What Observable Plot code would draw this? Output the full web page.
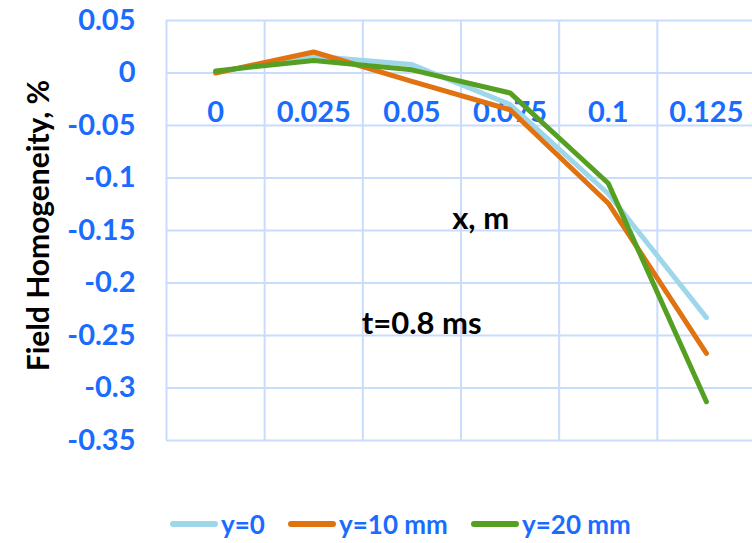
<!DOCTYPE html>
<html>
<head>
<meta charset="utf-8">
<script src="https://cdn.jsdelivr.net/npm/d3@7"></script>
<script src="https://cdn.jsdelivr.net/npm/@observablehq/plot@0.6"></script>
<style>
  body { margin: 0; background: #fff; font-family: Lato, "Open Sans", sans-serif; }
  #legend { position: relative; height: 43px; width: 752px; font-weight: bold; font-size: 26px; color: #1a6cff; }
  .item { position: absolute; top: 8px; display: flex; align-items: center; }
  .sw { width: 48px; height: 6px; border-radius: 3px; margin-right: 3px; }
</style>
</head>
<body>
<div id="chart"></div>
<div id="legend"></div>
<script>
const xs = [0, 0.025, 0.05, 0.075, 0.1, 0.125];
const xLabels = ["0", "0.025", "0.05", "0.075", "0.1", "0.125"];
const yTicks = [0.05, 0, -0.05, -0.1, -0.15, -0.2, -0.25, -0.3, -0.35];
const yTickLabels = ["0.05", "0", "-0.05", "-0.1", "-0.15", "-0.2", "-0.25", "-0.3", "-0.35"];
const seriesNames = ["y=0", "y=10 mm", "y=20 mm"];
const seriesColors = ["#9ed6ea", "#e0720f", "#55a023"];
const y0 = [0.001, 0.016, 0.008, -0.030, -0.115, -0.233];
const y10 = [0.000, 0.020, -0.008, -0.035, -0.124, -0.267];
const y20 = [0.002, 0.012, 0.003, -0.019, -0.105, -0.313];

const step = xs[1] - xs[0];
const gridX = xs.map(x => x - step / 2).concat([xs[xs.length - 1] + step / 2]);
const data = [y0, y10, y20].flatMap((vals, i) => vals.map((v, j) => ({x: xs[j], y: v, s: seriesNames[i]})));

const blue = "#1a6cff";
const chart = Plot.plot({
  width: 752,
  height: 500,
  marginLeft: 166,
  marginRight: -3,
  marginTop: 20,
  marginBottom: 60,
  style: {fontFamily: "Lato, sans-serif", overflow: "visible"},
  x: {type: "linear", domain: [gridX[0], gridX[gridX.length - 1]], axis: null},
  y: {domain: [-0.35, 0.05], axis: null},
  color: {domain: seriesNames, range: seriesColors},
  marks: [
    Plot.ruleY(yTicks, {stroke: "#cadcfb", strokeWidth: 2}),
    Plot.ruleX(gridX, {stroke: "#cadcfb", strokeWidth: 2}),
    Plot.text(yTicks, {x: gridX[0], y: d => d, text: (d, i) => yTickLabels[i], textAnchor: "end", dx: -31, fill: blue, fontWeight: "bold", fontSize: 29}),
    Plot.text(xs, {x: d => d, y: 0, text: (d, i) => xLabels[i], dy: 40, fill: blue, fontWeight: "bold", fontSize: 29}),
    Plot.line(data, {x: "x", y: "y", z: "s", stroke: "s", strokeWidth: 5, strokeLinecap: "round", strokeLinejoin: "round"}),
    Plot.text(["x, m"], {x: 0.0675, y: -0.139, fill: "#000", fontWeight: "bold", fontSize: 31}),
    Plot.text(["t=0.8 ms"], {x: 0.0525, y: -0.239, fill: "#000", fontWeight: "bold", fontSize: 31}),
    Plot.text(["Field Homogeneity, %"], {frameAnchor: "left", textAnchor: "middle", rotate: -90, dx: -127, dy: -5, fill: "#000", fontWeight: "bold", fontSize: 30})
  ]
});
document.getElementById("chart").appendChild(chart);

const legend = document.getElementById("legend");
const lefts = [170, 288, 471];
seriesNames.forEach((n, i) => {
  const it = document.createElement("div");
  it.className = "item";
  it.style.left = lefts[i] + "px";
  const sw = document.createElement("div");
  sw.className = "sw";
  sw.style.background = seriesColors[i];
  const t = document.createElement("span");
  t.textContent = n;
  it.appendChild(sw);
  it.appendChild(t);
  legend.appendChild(it);
});
</script>
</body>
</html>
